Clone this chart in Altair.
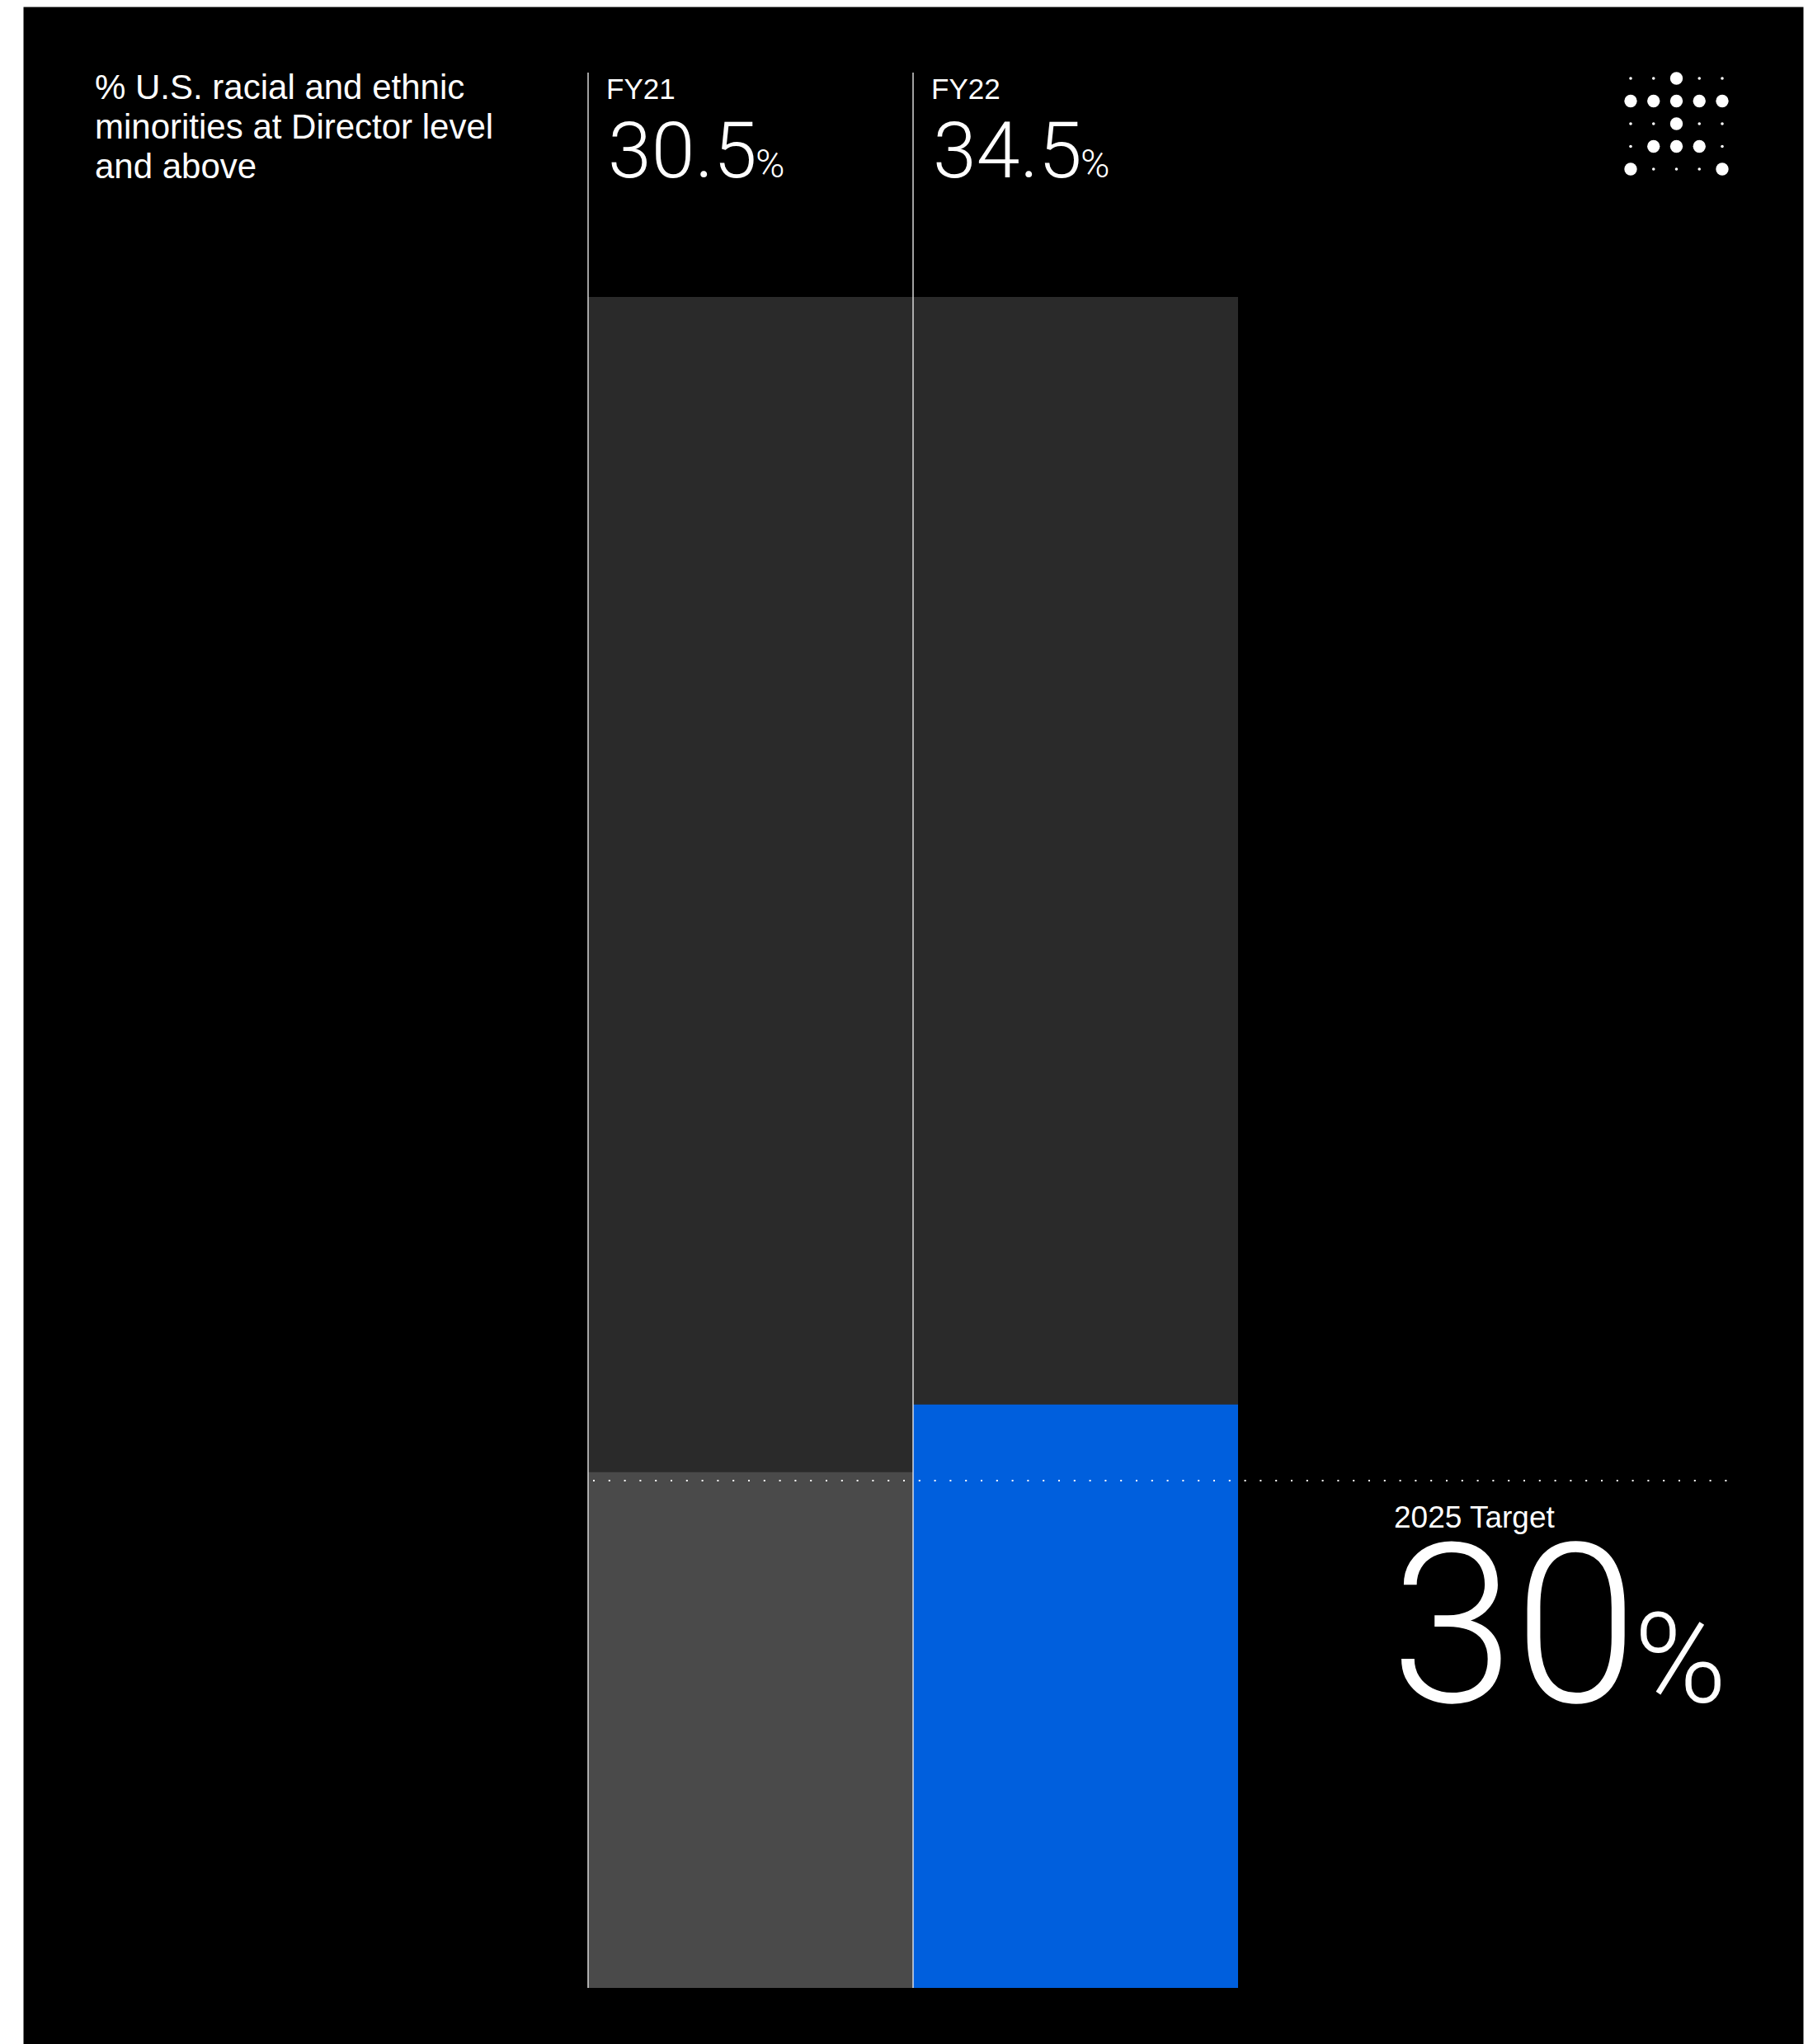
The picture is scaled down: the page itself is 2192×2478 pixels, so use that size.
import altair as alt
import pandas as pd

# ---------------- data ----------------
years = ["FY21", "FY22"]
values = [30.5, 34.5]
value_labels = ["30.5", "34.5"]
scale_max = [100, 100]
bar_colors = ["#4a4a4a", "#005fdd"]
track_color = "#2a2a2a"
target_value = 30
target_caption = "2025 Target"
target_label = "30"
title_lines = ["% U.S. racial and ethnic", "minorities at Director level", "and above"]
icon_rows = ["..O..", "OOOOO", "..O..", ".OOO.", "O...O"]

# ---------------- tables ----------------
bars_df = pd.DataFrame({"year": years, "value": values, "label": value_labels, "max": scale_max})
target_df = pd.DataFrame({"target": [target_value], "caption": [target_caption], "label": [target_label]})
one_df = pd.DataFrame({"k": [0]})
icon_df = pd.DataFrame(
    [{"col": c, "row": r, "kind": ("big" if ch == "O" else "small")}
     for r, line in enumerate(icon_rows) for c, ch in enumerate(line)]
)

W, H = 2158, 2470
HALF_BAND = 197
x_scale = alt.Scale(domain=years, range=[685, 1473], paddingInner=0, paddingOuter=0)
y_scale = alt.Scale(domain=[0, 100], range=[2402, 352], nice=False, zero=True)

X = alt.X("year:N", scale=x_scale, axis=None)
X0 = alt.X("year:N", scale=x_scale, axis=None, bandPosition=0)
Yt = alt.Y("target:Q", scale=y_scale, axis=None)

base = alt.Chart(bars_df)

track = base.mark_bar(color=track_color).encode(
    x=X, y=alt.Y("max:Q", scale=y_scale, axis=None)
)
fill = base.mark_bar().encode(
    x=X,
    y=alt.Y("value:Q", scale=y_scale, axis=None),
    color=alt.Color("year:N", scale=alt.Scale(domain=years, range=bar_colors), legend=None),
)
vrules = base.transform_calculate(zero="0").mark_rule(color="#e6e6e6", strokeWidth=1.4).encode(
    x=X0, y=alt.Y("zero:Q", scale=y_scale, axis=None), y2=alt.value(80)
)
fy_text = base.mark_text(
    align="left", baseline="alphabetic", font="Liberation Sans", fontSize=35, color="white",
    dx=22 - HALF_BAND
).encode(x=X, y=alt.value(112), text="year:N")
val_text = base.mark_text(
    align="left", baseline="alphabetic", font="Roboto", fontWeight=300, fontSize=95, color="white",
    dx=24 - HALF_BAND
).encode(x=X, y=alt.value(207), text="label:N")
pct_text = base.mark_text(
    align="left", baseline="alphabetic", font="Roboto", fontWeight=300, fontSize=48, color="white",
    dx=203 - HALF_BAND
).encode(x=X, y=alt.value(207), text=alt.value("%"))

tbase = alt.Chart(target_df)
dotted = tbase.mark_rule(color="white", strokeWidth=2, strokeDash=[2, 16.8]).encode(
    x=alt.value(691), x2=alt.value(2071), y=Yt
)
cap = tbase.mark_text(
    align="left", baseline="alphabetic", font="Liberation Sans", fontSize=37, color="white", dy=57
).encode(x=alt.value(1662), y=Yt, text="caption:N")
big = tbase.mark_text(
    align="left", baseline="alphabetic", font="Roboto", fontWeight=300, fontSize=270, color="white", dy=268
).encode(x=alt.value(1658), y=Yt, text="label:N")
big_pct = tbase.mark_text(
    align="left", baseline="alphabetic", font="Roboto", fontWeight=300, fontSize=152, color="white", dy=268
).encode(x=alt.value(1953), y=Yt, text=alt.value("%"))

title = alt.Chart(one_df).mark_text(
    align="left", baseline="alphabetic", font="Liberation Sans", fontSize=42, lineHeight=48, color="white"
).encode(x=alt.value(87), y=alt.value(112), text=alt.value(title_lines))

icon = alt.Chart(icon_df).mark_circle(color="white", opacity=1).encode(
    x=alt.X("col:Q", scale=alt.Scale(domain=[0, 4], range=[1949, 2060]), axis=None),
    y=alt.Y("row:Q", scale=alt.Scale(domain=[0, 4], range=[87, 197]), axis=None),
    size=alt.Size("kind:N", scale=alt.Scale(domain=["big", "small"], range=[236, 13]), legend=None),
)

chart = alt.layer(
    track, fill, vrules, dotted, fy_text, val_text, pct_text, cap, big, big_pct, title, icon
).resolve_scale(
    x="independent", y="independent", color="independent", size="independent"
).properties(
    width=W, height=H, background="white",
    padding={"left": 28, "top": 8, "right": 6, "bottom": 0},
    autosize=alt.AutoSizeParams(type="none"),
).configure_view(fill="black", stroke="transparent")

chart.save("out.html", embed_options={"renderer": "svg", "actions": False})
